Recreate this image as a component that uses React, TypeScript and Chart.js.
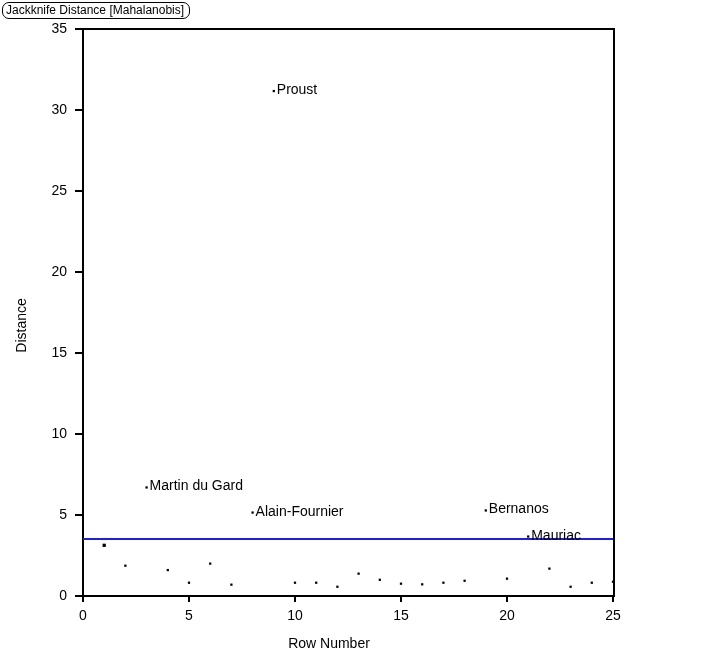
import React, { useEffect, useRef } from 'react';
import { Chart, registerables } from 'chart.js';

Chart.register(...registerables);

const rowNumbers = [1, 2, 3, 4, 5, 6, 7, 8, 9, 10, 11, 12, 13, 14, 15, 16, 17, 18, 19, 20, 21, 22, 23, 24, 25];
const distances = [3.13, 1.87, 6.70, 1.60, 0.82, 2.00, 0.70, 5.15, 31.17, 0.82, 0.82, 0.57, 1.38, 1.00, 0.76, 0.72, 0.82, 0.94, 5.28, 1.07, 3.67, 1.69, 0.57, 0.82, 0.88];
const pointNames = ['', '', 'Martin du Gard', '', '', '', '', 'Alain-Fournier', 'Proust', '', '', '', '', '', '', '', '', '', 'Bernanos', '', 'Mauriac', '', '', '', ''];
const highlightedRows = [1];
const limitValue = 3.52;
const xTickValues = [0, 5, 10, 15, 20, 25];
const yTickValues = [0, 5, 10, 15, 20, 25, 30, 35];
const chartTitle = 'Jackknife Distance [Mahalanobis]';
const xAxisTitle = 'Row Number';
const yAxisTitle = 'Distance';

const FONT = '"Liberation Sans", Arial, Helvetica, sans-serif';

const framePlugin = {
  id: 'frame',
  beforeDatasetsDraw(chart: any) {
    const { ctx, chartArea } = chart;
    const { left, right, top, bottom } = chartArea;
    ctx.save();
    ctx.strokeStyle = '#000';
    ctx.lineWidth = 2;
    ctx.beginPath();
    ctx.moveTo(left - 1, top);
    ctx.lineTo(right + 2, top);
    ctx.moveTo(right + 1, top);
    ctx.lineTo(right + 1, bottom + 1);
    ctx.stroke();
    ctx.restore();
  },
};

const overlayPlugin = {
  id: 'overlay',
  afterDatasetsDraw(chart: any) {
    const { ctx, chartArea } = chart;
    const { left, top, bottom } = chartArea;
    ctx.save();
    ctx.fillStyle = '#000';
    ctx.font = `14px ${FONT}`;
    ctx.textAlign = 'left';
    ctx.textBaseline = 'alphabetic';
    const meta = chart.getDatasetMeta(0);
    pointNames.forEach((name, i) => {
      if (!name) return;
      const el = meta.data[i];
      ctx.fillText(name, el.x + 3, el.y + 3);
    });

    ctx.textAlign = 'center';
    ctx.textBaseline = 'middle';
    ctx.fillText(xAxisTitle, left + 246, bottom + 48);
    ctx.translate(left - 61, (top + bottom) / 2 + 13);
    ctx.rotate(-Math.PI / 2);
    ctx.fillText(yAxisTitle, 0, 0);
    ctx.restore();
  },
};

export default function App() {
  const canvasRef = useRef<HTMLCanvasElement | null>(null);

  useEffect(() => {
    document.body.style.margin = '0';
    const canvas = canvasRef.current;
    if (!canvas) return;
    const chart = new Chart(canvas, {
      type: 'scatter',
      data: {
        datasets: [
          {
            label: 'Distance',
            data: rowNumbers.map((x, i) => ({ x, y: distances[i] })),
            backgroundColor: '#000',
            borderColor: '#000',
            borderWidth: 0,
            pointStyle: 'rect',
            pointRadius: rowNumbers.map((r) => (highlightedRows.includes(r) ? 2.3 : 1.6)),
            showLine: false,
            clip: false,
          },
          {
            label: 'Limit',
            data: [
              { x: xTickValues[0], y: limitValue },
              { x: xTickValues[xTickValues.length - 1], y: limitValue },
            ],
            showLine: true,
            borderColor: '#1e1ee6',
            borderWidth: 2,
            pointRadius: 0,
          } as any,
        ],
      },
      options: {
        responsive: false,
        animation: false,
        devicePixelRatio: 1,
        layout: { padding: { left: 8, top: 29, right: 93, bottom: 12 } },
        plugins: {
          legend: { display: false },
          tooltip: { enabled: false },
          title: { display: false },
        },
        scales: {
          x: {
            type: 'linear',
            min: 0,
            max: 25,
            afterBuildTicks: (s: any) => {
              s.ticks = xTickValues.map((v) => ({ value: v }));
            },
            afterFit: (s: any) => {
              s.height = 56;
            },
            ticks: { color: '#000', font: { family: FONT, size: 14 }, padding: 6, maxRotation: 0 },
            grid: { drawOnChartArea: false, drawTicks: true, tickLength: 6, color: '#000', lineWidth: 2 },
            border: { display: true, color: '#000', width: 2 },
          },
          y: {
            type: 'linear',
            min: 0,
            max: 35,
            afterBuildTicks: (s: any) => {
              s.ticks = yTickValues.map((v) => ({ value: v }));
            },
            afterFit: (s: any) => {
              s.width = 75;
            },
            ticks: { color: '#000', font: { family: FONT, size: 14 }, padding: 8 },
            grid: { drawOnChartArea: false, drawTicks: true, tickLength: 8, color: '#000', lineWidth: 2 },
            border: { display: true, color: '#000', width: 2 },
          },
        },
      } as any,
      plugins: [framePlugin, overlayPlugin],
    });
    return () => chart.destroy();
  }, []);

  return (
    <div style={{ position: 'relative', width: 706, height: 664, background: '#fff' }}>
      <canvas ref={canvasRef} width={706} height={664} style={{ width: 706, height: 664, display: 'block' }} />
      <div
        style={{
          position: 'absolute',
          left: 2,
          top: 2,
          width: 183,
          height: 15,
          border: '1px solid #000',
          borderRadius: 7,
          fontFamily: FONT,
          fontSize: 12,
          lineHeight: '15px',
          paddingLeft: 3,
          boxSizing: 'content-box',
          color: '#000',
          whiteSpace: 'nowrap',
        }}
      >
        {chartTitle}
      </div>
    </div>
  );
}
